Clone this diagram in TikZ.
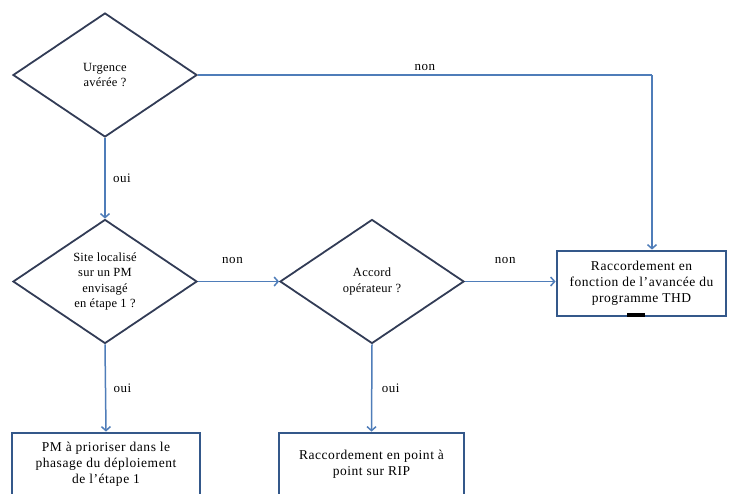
\documentclass[tikz,border=0pt]{standalone}
\usepackage{fontspec}
\setmainfont{Liberation Serif}
\usetikzlibrary{shapes.geometric}
\usetikzlibrary{arrows.meta}

\definecolor{lien}{RGB}{79,125,185}
\definecolor{cadre}{RGB}{52,88,138}
\definecolor{losange}{RGB}{50,60,86}

\begin{document}
\begin{tikzpicture}[x=1pt, y=1pt,
  question/.style={diamond, draw=losange, line width=1.8pt, inner sep=0pt,
    minimum width=184pt, minimum height=124pt, align=center,
    font=\fontsize{12.5}{15.5}\selectfont\addfontfeature{LetterSpace=2}},
  action/.style={rectangle, draw=cadre, line width=2.8pt, inner sep=0pt, align=center,
    font=\fontsize{13.5}{16}\selectfont\addfontfeature{LetterSpace=4}},
  lien/.style={draw=lien, line width=1.5pt},
  fleche/.style={lien, -{Straight Barb[length=4pt,width=9pt]}},
  reponse/.style={font=\fontsize{13}{14}\selectfont\addfontfeature{LetterSpace=4}}]
\useasboundingbox (0, 0) rectangle (736, -493);

\node (urgence) [question] at (105, -75) {Urgence\\avérée ?};
\node (site) [question] at (105, -281.5) {Site localisé\\sur un PM\\envisagé\\en étape 1 ?};
\node (accord) [question] at (372, -281.5) {Accord\\opérateur ?};

\node (prior) [action, minimum width=188pt, minimum height=62pt] at (106, -464)
  {PM à prioriser dans le\\phasage du déploiement\\de l'étape 1};
\node (rip) [action, minimum width=185pt, minimum height=62pt] at (371.5, -464)
  {Raccordement en point à\\point sur RIP};
\node (thd) [action, minimum width=169pt, minimum height=65pt] at (641.5, -283.5)
  {Raccordement en\\fonction de l'avancée du\\programme THD};

\coordinate (coin) at (652, -75);

% branches "non"
\draw [lien] (urgence.east) -- node [midway, above, reponse] {non} (coin);
\draw [fleche] (coin) -- (coin |- thd.north);
\draw [fleche] (site.east) -- node [midway, above=14pt, xshift=-6pt, reponse] {non} (accord.west);
\draw [fleche] (accord.east) -- node [midway, above=14pt, xshift=-5pt, reponse] {non} (accord.east -| thd.west);

% branches "oui"
\draw [fleche] (urgence.south) -- node [midway, right=4pt, reponse] {oui} (site.north);
\draw [fleche] (site.south) -- node [midway, right=4pt, reponse] {oui} (prior.north);
\draw [fleche] (accord.south) -- node [midway, right=6pt, reponse] {oui} (rip.north);

\fill (627, -313) rectangle (645, -316.5);
\end{tikzpicture}
\end{document}
